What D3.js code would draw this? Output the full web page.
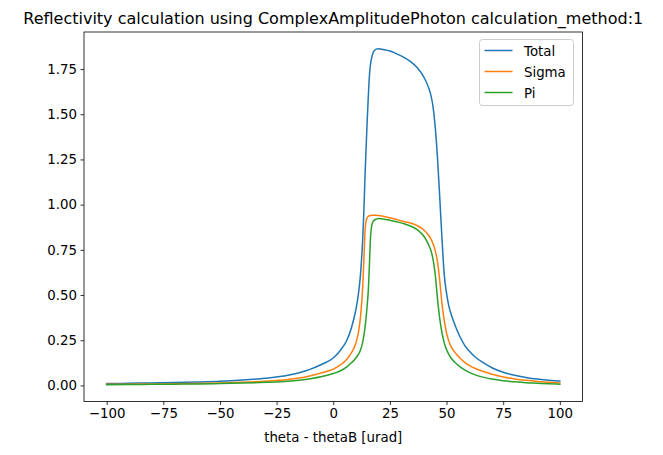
<!DOCTYPE html>
<html>
<head>
<meta charset="utf-8">
<script src="https://cdn.jsdelivr.net/npm/d3@7/dist/d3.min.js"></script>
<style>
  html, body { margin: 0; padding: 0; background: #fff; }
  svg { display: block; font-family: "DejaVu Sans", sans-serif; }
</style>
</head>
<body>
<svg id="chart" width="663" height="455"></svg>
<script>
// ---- data ----
const theta = [-100,-90,-80,-70,-60,-50,-40,-30,-20,-15,-10,-5,
  0,3,6,8,10,11,12,13,13.5,14,14.5,15,15.5,16,16.5,17,17.5,18,19,20,
  22,25,28,31,34,37,40,42,43,44,45,46,47,48,49,50,51,52,
  54,56,58,60,63,66,70,75,80,85,90,95,100];
const sigma = [.006,.007,.008,.009,.011,.013,.017,.023,.033,.041,.054,.070,
  .090,.112,.145,.180,.235,.285,.375,.545,.690,.845,.910,.928,.936,.939,.940,.941,.941,.941,.941,.940,
  .936,.927,.917,.907,.898,.884,.860,.832,.812,.785,.745,.685,.580,.450,.360,.290,.245,.215,
  .178,.150,.128,.111,.092,.078,.062,.047,.036,.028,.022,.018,.014];
const pi = [.004,.005,.006,.007,.008,.010,.013,.017,.023,.029,.037,.049,
  .066,.080,.103,.125,.152,.170,.195,.240,.275,.320,.375,.445,.530,.680,.830,.885,.905,.913,.920,.923,
  .921,.914,.905,.895,.882,.862,.825,.780,.750,.700,.615,.480,.370,.290,.235,.198,.172,.152,
  .124,.103,.086,.072,.057,.046,.035,.026,.020,.015,.012,.009,.007];
const total = [.010,.012,.014,.016,.019,.023,.030,.040,.056,.070,.090,.117,
  .152,.192,.250,.318,.420,.495,.610,.810,.960,1.150,1.315,1.470,1.605,1.720,1.782,1.815,1.838,1.850,1.860,1.862,
  1.858,1.850,1.834,1.816,1.792,1.758,1.705,1.650,1.610,1.545,1.430,1.260,1.040,.810,.610,.510,.440,.395,
  .325,.268,.222,.190,.153,.127,.098,.073,.056,.044,.035,.029,.024];
const seriesNames = ["Total", "Sigma", "Pi"];
const seriesColors = ["#1f77b4", "#ff7f0e", "#2ca02c"];
const xTicks = [-100,-75,-50,-25,0,25,50,75,100];
const xTickLabels = ["\u2212100","\u221275","\u221250","\u221225","0","25","50","75","100"];
const yTicks = [0,0.25,0.5,0.75,1.0,1.25,1.5,1.75];
const yTickLabels = ["0.00","0.25","0.50","0.75","1.00","1.25","1.50","1.75"];
const titleText = "Reflectivity calculation using ComplexAmplitudePhoton calculation_method:1";
const xLabelText = "theta - thetaB [urad]";

// ---- layout ----
const L = 84, T = 32, W = 498.5, H = 369.5;
const svg = d3.select("#chart");
const seriesValues = [total, sigma, pi];

const xExt = d3.extent(theta), xPad = (xExt[1]-xExt[0])*0.05;
const allY = [].concat(total, sigma, pi);
const yExt = d3.extent(allY), yPad = (yExt[1]-yExt[0])*0.05;
const x = d3.scaleLinear().domain([xExt[0]-xPad, xExt[1]+xPad]).range([L, L+W]);
const y = d3.scaleLinear().domain([yExt[0]-yPad, yExt[1]+yPad]).range([T+H, T]);

// lines
const g = svg.append("g");
seriesValues.forEach((vals, i) => {
  const line = d3.line().x(d => x(d[0])).y(d => y(d[1])).curve(d3.curveMonotoneX);
  g.append("path")
    .datum(theta.map((t, j) => [t, vals[j]]))
    .attr("d", line)
    .attr("fill", "none")
    .attr("stroke", seriesColors[i])
    .attr("stroke-width", 1.5)
    .attr("stroke-linejoin", "round")
    .attr("stroke-linecap", "square");
});

// axes
const xAxis = d3.axisBottom(x).tickValues(xTicks).tickFormat((d, i) => xTickLabels[i]).tickSizeInner(3.5).tickSizeOuter(0).tickPadding(3.5);
const yAxis = d3.axisLeft(y).tickValues(yTicks).tickFormat((d, i) => yTickLabels[i]).tickSizeInner(3.5).tickSizeOuter(0).tickPadding(3.5);
const gx = svg.append("g").attr("transform", `translate(0,${T+H})`).call(xAxis);
const gy = svg.append("g").attr("transform", `translate(${L},0)`).call(yAxis);
[gx, gy].forEach(a => {
  a.select(".domain").remove();
  a.selectAll(".tick line").attr("stroke", "#000").attr("stroke-width", 0.8);
  a.selectAll(".tick text").attr("fill", "#000").style("font-size", "13.33px").style("font-family", "DejaVu Sans");
});

// spines
svg.append("rect").attr("x", L).attr("y", T).attr("width", W).attr("height", H)
  .attr("fill", "none").attr("stroke", "#000").attr("stroke-width", 0.8);

// title & label
svg.append("text").attr("x", L + W/2).attr("y", T - 8).attr("text-anchor", "middle")
  .style("font-size", "16px").text(titleText);
svg.append("text").attr("x", L + W/2).attr("y", 442).attr("text-anchor", "middle")
  .style("font-size", "13.33px").text(xLabelText);

// legend
const lg = svg.append("g");
lg.append("rect").attr("x", 479.5).attr("y", 39.5).attr("width", 94).attr("height", 66).attr("rx", 3)
  .attr("fill", "#fff").attr("fill-opacity", 0.8).attr("stroke", "#cccccc").attr("stroke-width", 1);
seriesNames.forEach((n, i) => {
  const cy = 50.5 + i * 21;
  lg.append("line").attr("x1", 484.5).attr("x2", 512.5).attr("y1", cy).attr("y2", cy)
    .attr("stroke", seriesColors[i]).attr("stroke-width", 1.5);
  lg.append("text").attr("x", 524).attr("y", cy + 5).style("font-size", "13.33px").text(n);
});
</script>
</body>
</html>
